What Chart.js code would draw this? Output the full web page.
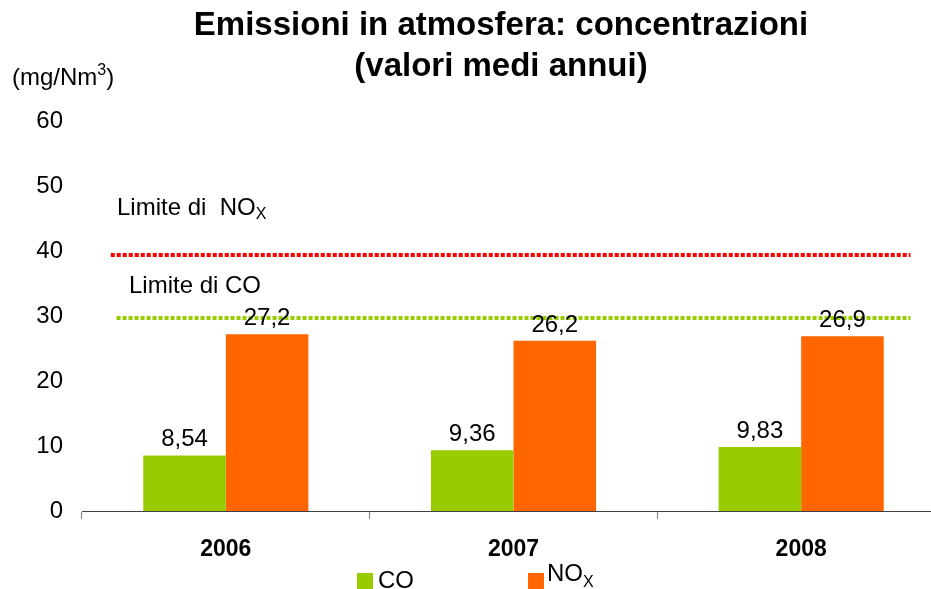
<!DOCTYPE html>
<html>
<head>
<meta charset="utf-8">
<script src="https://cdn.jsdelivr.net/npm/chart.js@4"></script>
<style>
  html, body { margin: 0; padding: 0; background: #fff; overflow: hidden; }
  #wrap { width: 960px; height: 589px; }
</style>
</head>
<body>
<div id="wrap"><canvas id="chart"></canvas></div>
<script>
// dati
const years = ['2006', '2007', '2008'];
const coValues = [8.54, 9.36, 9.83];
const noxValues = [27.2, 26.2, 26.9];
const limitNox = 39.4;
const limitCo = 29.7;
// estensione delle linee limite, in unita di categoria
const limitNoxSpan = [-0.4, 2.38];
const limitCoSpan = [-0.38, 2.38];
const yMin = 0, yMax = 60, yStep = 10;
const titleLines = ['Emissioni in atmosfera: concentrazioni', '(valori medi annui)'];

const FONT = "'Liberation Sans', Arial, sans-serif";
const green = '#99CC00';
const orange = '#FF6600';
const red = '#FF0000';

function fmt(v) {
    return String(v).replace('.', ',');
}

// testo con pedici / apici
function drawParts(ctx, parts, x, y) {
    ctx.textAlign = 'left';
    ctx.textBaseline = 'alphabetic';
    parts.forEach(p => {
        ctx.font = (p.bold ? 'bold ' : '') + p.size + 'px ' + FONT;
        ctx.fillText(p.t, x, y + (p.dy || 0));
        x += ctx.measureText(p.t).width;
    });
}

function limitLine(chart, value, span, color) {
    const ctx = chart.ctx;
    const x = chart.scales.x, y = chart.scales.y;
    const py = y.getPixelForValue(value);
    ctx.save();
    ctx.strokeStyle = color;
    ctx.lineWidth = 4;
    ctx.setLineDash([4, 2]);
    ctx.beginPath();
    ctx.moveTo(x.getPixelForValue(span[0]), py);
    ctx.lineTo(x.getPixelForValue(span[1]), py);
    ctx.stroke();
    ctx.restore();
}

const extras = {
    id: 'extras',
    beforeDatasetsDraw(chart) {
        limitLine(chart, limitNox, limitNoxSpan, red);
        limitLine(chart, limitCo, limitCoSpan, green);
    },
    afterDatasetsDraw(chart) {
        const ctx = chart.ctx;
        const y = chart.scales.y;
        ctx.save();
        ctx.fillStyle = '#000';
        // titolo
        ctx.font = 'bold 33px ' + FONT;
        ctx.textAlign = 'center';
        ctx.textBaseline = 'alphabetic';
        ctx.fillText(titleLines[0], 501, 35);
        ctx.fillText(titleLines[1], 501, 76);
        // etichette valori
        chart.data.datasets.forEach((ds, i) => {
            chart.getDatasetMeta(i).data.forEach((bar, j) => {
                ctx.font = '24px ' + FONT;
                ctx.textAlign = 'center';
                ctx.textBaseline = 'alphabetic';
                ctx.fillText(fmt(ds.data[j]), bar.x, bar.y - 9);
            });
        });
        // etichette limiti
        drawParts(ctx, [{t: 'Limite di  NO', size: 24}, {t: 'X', size: 16, dy: 4}],
            117, y.getPixelForValue(limitNox) - 40);
        drawParts(ctx, [{t: 'Limite di CO', size: 24}], 129, y.getPixelForValue(limitCo) - 25);
        // unita
        drawParts(ctx, [{t: '(mg/Nm', size: 24}, {t: '3', size: 16, dy: -10}, {t: ')', size: 24}], 12, 85);
        // legenda
        ctx.fillStyle = green;
        ctx.fillRect(357, 573, 16, 16);
        ctx.fillStyle = orange;
        ctx.fillRect(528, 573, 16, 16);
        ctx.fillStyle = '#000';
        drawParts(ctx, [{t: 'CO', size: 24}], 378, 588);
        drawParts(ctx, [{t: 'NO', size: 24}, {t: 'X', size: 16, dy: 6}], 547, 581);
        ctx.restore();
    }
};

new Chart(document.getElementById('chart'), {
    type: 'bar',
    data: {
        labels: years,
        datasets: [{
            label: 'CO',
            data: coValues,
            backgroundColor: green,
            categoryPercentage: 0.574,
            barPercentage: 1
        }, {
            label: 'NOx',
            data: noxValues,
            backgroundColor: orange,
            categoryPercentage: 0.574,
            barPercentage: 1
        }]
    },
    options: {
        responsive: true,
        maintainAspectRatio: false,
        animation: false,
        layout: { padding: { left: 0, right: 15, top: 121, bottom: 0 } },
        plugins: {
            legend: { display: false },
            tooltip: { enabled: false },
            title: { display: false }
        },
        scales: {
            x: {
                grid: {
                    offset: true,
                    drawOnChartArea: false,
                    drawTicks: true,
                    tickLength: 8,
                    color: '#808080'
                },
                border: { display: true, color: '#404040', width: 1 },
                ticks: {
                    color: '#000',
                    font: { family: FONT, size: 23, weight: 'bold' },
                    padding: 17
                },
                afterFit: s => { s.height = 78; }
            },
            y: {
                min: yMin,
                max: yMax,
                grid: { display: false, drawTicks: false },
                border: { display: false },
                ticks: {
                    stepSize: yStep,
                    color: '#000',
                    font: { family: FONT, size: 24 },
                    padding: 19
                },
                afterFit: s => { s.width = 82; }
            }
        }
    },
    plugins: [extras]
});
</script>
</body>
</html>
